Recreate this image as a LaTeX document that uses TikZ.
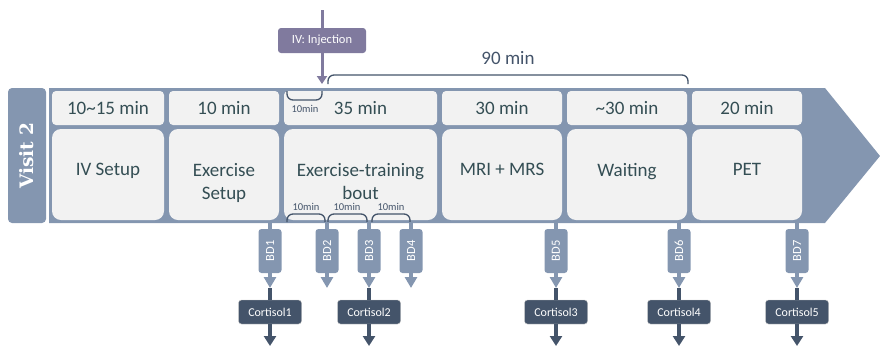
\documentclass[tikz,border=0pt]{standalone}
\usepackage{fontspec}
\setmainfont{Carlito}
\newfontfamily\visitfont{DejaVu Serif}
\usetikzlibrary{arrows.meta}
\definecolor{bandblue}{RGB}{132,150,176}
\definecolor{boxgray}{RGB}{242,242,242}
\definecolor{navy}{RGB}{68,84,106}
\definecolor{txtteal}{RGB}{52,78,84}
\definecolor{ivpurple}{RGB}{128,122,158}

\begin{document}
\begin{tikzpicture}[x=1pt,y=-1pt]
\tikzstyle{every node}=[inner sep=0pt, font=\fontsize{19}{23}\selectfont, text=txtteal]
\tikzstyle{topbox}=[fill=boxgray, rounded corners=4pt, minimum height=34pt]
\tikzstyle{lowbox}=[fill=boxgray, rounded corners=9pt, minimum height=91pt]
\tikzstyle{lowtext}=[align=center, anchor=north]
\tikzstyle{bdbox}=[fill=bandblue, rounded corners=3pt, rotate=90, minimum width=44pt, minimum height=23pt, text=white, font=\fontsize{12.5}{14}\selectfont]
\tikzstyle{cortbox}=[fill=navy, draw=gray!45, rounded corners=3pt, minimum width=63pt, minimum height=24pt, text=white, font=\fontsize{12}{14}\selectfont]
\tikzstyle{stub}=[draw=bandblue, line width=4pt]
\tikzstyle{bdarrow}=[stub, -{Triangle[width=12pt,length=11pt]}]
\tikzstyle{cortline}=[draw=navy, line width=4pt]
\tikzstyle{cortarrow}=[cortline, -{Triangle[width=12pt,length=10pt]}]
\tikzstyle{ivline}=[draw=ivpurple, line width=3pt]
\tikzstyle{brk}=[draw=navy, line width=1.3pt, rounded corners=6pt]
\tikzstyle{small}=[font=\fontsize{10.5}{12}\selectfont, text=navy]
\useasboundingbox (0,0) rectangle (880,346);
% band and visit label
\fill[bandblue] (49,88) -- (825,88) -- (880,156) -- (825,223) -- (49,223) -- cycle;
\node[rotate=90, fill=bandblue, rounded corners=4pt, minimum width=135pt, minimum height=38pt, text=white, font=\visitfont\bfseries\fontsize{18.5}{18}\selectfont] (visit) at (27,155.5) {Visit 2};
% durations
\node[topbox, minimum width=112pt] (t1) at (108,108) {10\textasciitilde15 min};
\node[topbox, minimum width=110pt] (t2) at (224,108) {10 min};
\node[topbox, minimum width=153pt] (t3) at (360.5,108) {35 min};
\node[topbox, minimum width=120pt] (t4) at (502,108) {30 min};
\node[topbox, minimum width=120pt] (t5) at (627,108) {\textasciitilde30 min};
\node[topbox, minimum width=110pt] (t6) at (747,108) {20 min};
% steps
\node[lowbox, minimum width=112pt] (s1) at (108,174.5) {};
\node[lowbox, minimum width=110pt] (s2) at (224,174.5) {};
\node[lowbox, minimum width=153pt] (s3) at (360.5,174.5) {};
\node[lowbox, minimum width=120pt] (s4) at (502,174.5) {};
\node[lowbox, minimum width=120pt] (s5) at (627,174.5) {};
\node[lowbox, minimum width=110pt] (s6) at (747,174.5) {};
\node[lowtext] (s1txt) at (108,163) {IV Setup};
\node[lowtext] (s2txt) at (224,163) {Exercise\\Setup};
\node[lowtext] (s3txt) at (360.5,163) {Exercise-training\\bout};
\node[lowtext] (s4txt) at (502,163) {MRI + MRS};
\node[lowtext] (s5txt) at (627,163) {Waiting};
\node[lowtext] (s6txt) at (747,163) {PET};
% brackets
\draw[brk] (328,84) -- (328,75) -- (688,75) -- (688,84);
\node[text=navy] (total) at (508,58) {90 min};
\draw[brk] (287,91) -- (287,100) -- (322,100) -- (322,91);
\node[small] (gap0) at (305,109) {10min};
\draw[brk] (287,222) -- (287,214) -- (325,214) -- (325,222);
\draw[brk] (328,222) -- (328,214) -- (367,214) -- (367,222);
\draw[brk] (372,222) -- (372,214) -- (410,214) -- (410,222);
\node[small] (gap1) at (306,207) {10min};
\node[small] (gap2) at (347,207) {10min};
\node[small] (gap3) at (391,207) {10min};
% injection
\coordinate (ivstart) at (322,10);
\coordinate (ivend) at (322,84);
\node[fill=ivpurple, rounded corners=3pt, minimum width=88pt, minimum height=25pt, text=white, font=\fontsize{12.5}{14}\selectfont] (iv) at (322,40.5) {IV: Injection};
\draw[ivline] (ivstart) -- (iv);
\draw[ivline, -{Triangle[width=10pt,length=8pt]}] (iv) -- (ivend);
% blood draws
\coordinate (bd1top) at (270,222);
\coordinate (bd2top) at (327,222);
\coordinate (bd3top) at (369,222);
\coordinate (bd4top) at (411,222);
\coordinate (bd5top) at (556,222);
\coordinate (bd6top) at (679,222);
\coordinate (bd7top) at (797,222);
\coordinate (bd1tip) at (270,288);
\coordinate (bd2tip) at (327,288);
\coordinate (bd3tip) at (369,288);
\coordinate (bd4tip) at (411,288);
\coordinate (bd5tip) at (556,288);
\coordinate (bd6tip) at (679,288);
\coordinate (bd7tip) at (797,288);
\node[bdbox] (bd1) at (270,251) {BD1};
\node[bdbox] (bd2) at (327,251) {BD2};
\node[bdbox] (bd3) at (369,251) {BD3};
\node[bdbox] (bd4) at (411,251) {BD4};
\node[bdbox] (bd5) at (556,251) {BD5};
\node[bdbox] (bd6) at (679,251) {BD6};
\node[bdbox] (bd7) at (797,251) {BD7};
\draw[stub] (bd1top) -- (bd1);
\draw[stub] (bd2top) -- (bd2);
\draw[stub] (bd3top) -- (bd3);
\draw[stub] (bd4top) -- (bd4);
\draw[stub] (bd5top) -- (bd5);
\draw[stub] (bd6top) -- (bd6);
\draw[stub] (bd7top) -- (bd7);
\draw[bdarrow] (bd1) -- (bd1tip);
\draw[bdarrow] (bd2) -- (bd2tip);
\draw[bdarrow] (bd3) -- (bd3tip);
\draw[bdarrow] (bd4) -- (bd4tip);
\draw[bdarrow] (bd5) -- (bd5tip);
\draw[bdarrow] (bd6) -- (bd6tip);
\draw[bdarrow] (bd7) -- (bd7tip);
% cortisol samples
\node[cortbox] (cort1) at (270,312) {Cortisol1};
\node[cortbox] (cort2) at (369,312) {Cortisol2};
\node[cortbox] (cort3) at (556,312) {Cortisol3};
\node[cortbox] (cort4) at (679,312) {Cortisol4};
\node[cortbox] (cort5) at (797,312) {Cortisol5};
\coordinate (cort1end) at (270,346);
\coordinate (cort2end) at (369,346);
\coordinate (cort3end) at (556,346);
\coordinate (cort4end) at (679,346);
\coordinate (cort5end) at (797,346);
\draw[cortline] (bd1tip) -- (cort1);
\draw[cortline] (bd3tip) -- (cort2);
\draw[cortline] (bd5tip) -- (cort3);
\draw[cortline] (bd6tip) -- (cort4);
\draw[cortline] (bd7tip) -- (cort5);
\draw[cortarrow] (cort1) -- (cort1end);
\draw[cortarrow] (cort2) -- (cort2end);
\draw[cortarrow] (cort3) -- (cort3end);
\draw[cortarrow] (cort4) -- (cort4end);
\draw[cortarrow] (cort5) -- (cort5end);
\end{tikzpicture}
\end{document}
